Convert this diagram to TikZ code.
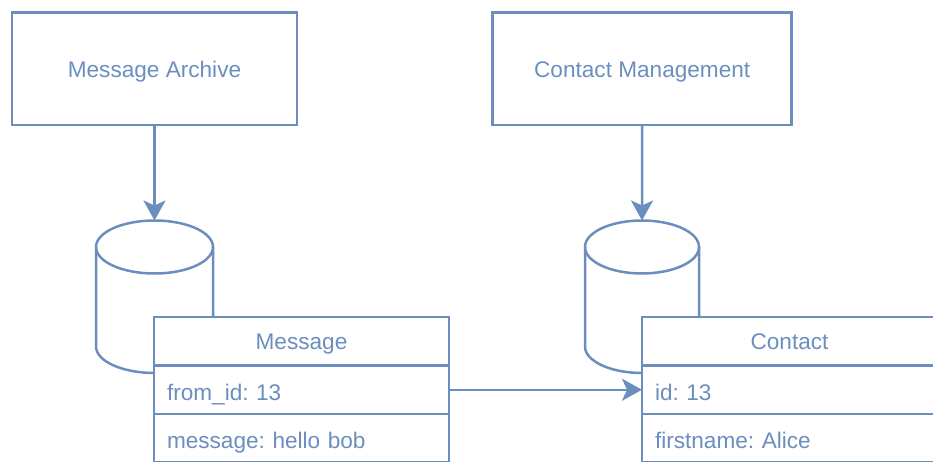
\documentclass[tikz,border=0pt]{standalone}
\usepackage{fontspec}
\setmainfont{Liberation Sans}
\usetikzlibrary{arrows.meta}
\definecolor{dbblue}{HTML}{6C8EBF}

\begin{document}
\frenchspacing
\begin{tikzpicture}[x=1pt, y=1pt, line width=2.5pt, draw=dbblue, text=dbblue,
  font=\fontsize{22.6}{27}\selectfont, outer sep=0pt,
  >={Stealth[length=20pt, width=22pt, inset=5pt]},
  service node/.style={rectangle, draw, minimum height=112.5pt, inner sep=0pt, text height=18pt, text depth=0pt},
  row node/.style={rectangle, draw, fill=white, anchor=north west, minimum height=48.5pt, text width=269pt, inner xsep=13pt, inner ysep=0pt, align=left, text height=21pt, text depth=0pt},
  head node/.style={row node, align=center, text height=16pt}]
\useasboundingbox (0,0) rectangle (933,461);

% services
\node[service node, minimum width=285pt] (archive) at (154.5,392.25) {Message Archive};
\node[service node, minimum width=299pt] (contacts) at (642.2,392.25) {Contact Management};

% databases
\foreach \cx/\rx/\nm in {154.5/58.5/archdb, 642/57/contactdb} {
  \draw[fill=white] (\cx-\rx,214) -- (\cx-\rx,114.5)
    arc[start angle=180, end angle=360, x radius=\rx, y radius=26.5]
    -- (\cx+\rx,214)
    arc[start angle=0, end angle=180, x radius=\rx, y radius=26.5];
  \draw (\cx-\rx,214) arc[start angle=180, end angle=360, x radius=\rx, y radius=26.5];
  \coordinate (\nm) at (\cx,240.5);
}
\draw [->] (archive) edge (archdb);
\draw [->] (contacts) edge (contactdb);

% tables
\node[head node] (msghead) at (154,144) {Message};
\node[row node] (msgfrom) at (msghead.south west) {from\_id: 13};
\node[row node] (msgtext) at (msgfrom.south west) {message: hello bob};
\node[head node] (cthead) at (642,144) {Contact};
\node[row node] (ctid) at (cthead.south west) {id: 13};
\node[row node] (ctname) at (ctid.south west) {firstname: Alice};

\draw [->] (msgfrom) edge (ctid);
\end{tikzpicture}
\end{document}
